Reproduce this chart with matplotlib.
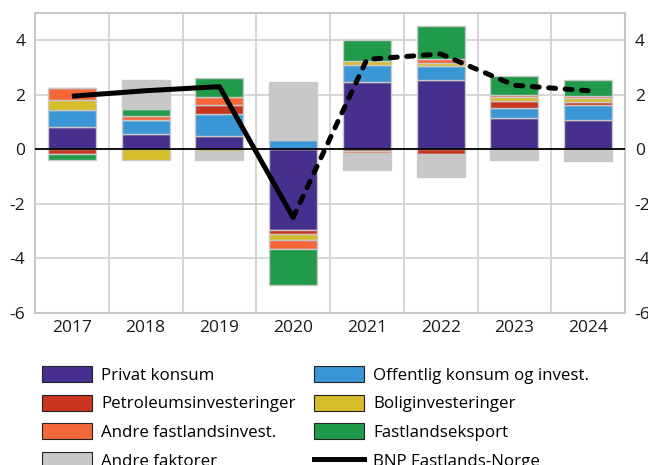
import numpy as np
import matplotlib
matplotlib.use("Agg")
import matplotlib.pyplot as plt
from matplotlib.patches import Patch
from matplotlib.lines import Line2D

plt.rcParams['font.family'] = ['Open Sans', 'DejaVu Sans']
plt.rcParams['axes.unicode_minus'] = False

years = ['2017', '2018', '2019', '2020', '2021', '2022', '2023', '2024']
privat = [0.83, 0.57, 0.49, -2.96, 2.48, 2.56, 1.16, 1.07]
offentlig = [0.60, 0.49, 0.79, 0.34, 0.60, 0.48, 0.37, 0.56]
petroleum = [-0.17, 0.0, 0.34, -0.16, -0.05, -0.18, 0.25, 0.10]
bolig = [0.38, -0.38, -0.06, -0.20, 0.16, 0.13, 0.15, 0.15]
andre_fast = [0.45, 0.16, 0.29, -0.32, -0.07, 0.16, 0.06, 0.07]
eksport = [-0.22, 0.25, 0.71, -1.34, 0.76, 1.19, 0.71, 0.58]
andre_faktorer = [0.0, 1.07, -0.34, 2.14, -0.64, -0.82, -0.38, -0.44]
bnp = [1.95, 2.15, 2.30, -2.50, 3.30, 3.50, 2.35, 2.15]

series = [
    ('Privat konsum', privat, '#472f8e'),
    ('Offentlig konsum og invest.', offentlig, '#3a96d4'),
    ('Petroleumsinvesteringer', petroleum, '#c8361f'),
    ('Boliginvesteringer', bolig, '#d6be2b'),
    ('Andre fastlandsinvest.', andre_fast, '#f4673b'),
    ('Fastlandseksport', eksport, '#219a4a'),
    ('Andre faktorer', andre_faktorer, '#c8c8c8'),
]

fig = plt.figure(figsize=(6.48, 4.65), dpi=100)
ax = fig.add_axes([35/648, 1-313/465, 590/648, 300/465])

x = np.arange(len(years))
pos = np.zeros(len(years))
neg = np.zeros(len(years))
for name, vals, col in series:
    v = np.array(vals, dtype=float)
    bottom = np.where(v >= 0, pos, neg)
    ax.bar(x, v, width=0.65, bottom=bottom, color=col, edgecolor='#c8c8c8',
           linewidth=1.0, zorder=2)
    pos = pos + np.where(v >= 0, v, 0)
    neg = neg + np.where(v < 0, v, 0)

ax.axhline(0, color='black', lw=1.3, zorder=3)
ax.plot(x[:4], bnp[:4], color='black', lw=3.6, zorder=4, solid_capstyle='butt')
ax.plot(x[3:], bnp[3:], color='black', lw=3.6, zorder=4, linestyle=(0, (1.4, 1.9)),
        dash_capstyle='round')

ax.set_xlim(-0.5, 7.5)
ax.set_ylim(-6, 5)
ax.set_yticks([-6, -4, -2, 0, 2, 4])
ax.set_xticks(x)
ax.set_xticklabels(years)
ax.grid(False)
for yv in [-4, -2, 2, 4]:
    ax.axhline(yv, color='#d0d0d0', lw=1.2, zorder=1)
for xv in np.arange(0.5, 7.5, 1):
    ax.axvline(xv, color='#d0d0d0', lw=1.2, zorder=1)
for s in ax.spines.values():
    s.set_color('#c8c8c8')
    s.set_linewidth(1.5)
ax.tick_params(axis='both', which='both', length=0, labelsize=12.5, colors='#1a1a1a')
ax.tick_params(axis='y', pad=7, labelright=True, right=False)
ax.tick_params(axis='x', pad=5)

handles = [
    Patch(facecolor='#472f8e', edgecolor='#222222', linewidth=0.8),
    Patch(facecolor='#c8361f', edgecolor='#222222', linewidth=0.8),
    Patch(facecolor='#f4673b', edgecolor='#222222', linewidth=0.8),
    Patch(facecolor='#c8c8c8', edgecolor='#222222', linewidth=0.8),
    Patch(facecolor='#3a96d4', edgecolor='#222222', linewidth=0.8),
    Patch(facecolor='#d6be2b', edgecolor='#222222', linewidth=0.8),
    Patch(facecolor='#219a4a', edgecolor='#222222', linewidth=0.8),
    Line2D([0], [0], color='black', lw=3.6),
]
labels = ['Privat konsum', 'Petroleumsinvesteringer', 'Andre fastlandsinvest.',
          'Andre faktorer', 'Offentlig konsum og invest.', 'Boliginvesteringer',
          'Fastlandseksport', 'BNP Fastlands-Norge']
fig.legend(handles, labels, ncol=2, loc='upper left',
           bbox_to_anchor=(42/648, 1-366/465), frameon=False, fontsize=12.2,
           handlelength=2.95, handleheight=1.12, handletextpad=0.55,
           columnspacing=1.05, labelspacing=0.62, borderpad=0, borderaxespad=0)

fig.savefig('out.png', dpi=100)
